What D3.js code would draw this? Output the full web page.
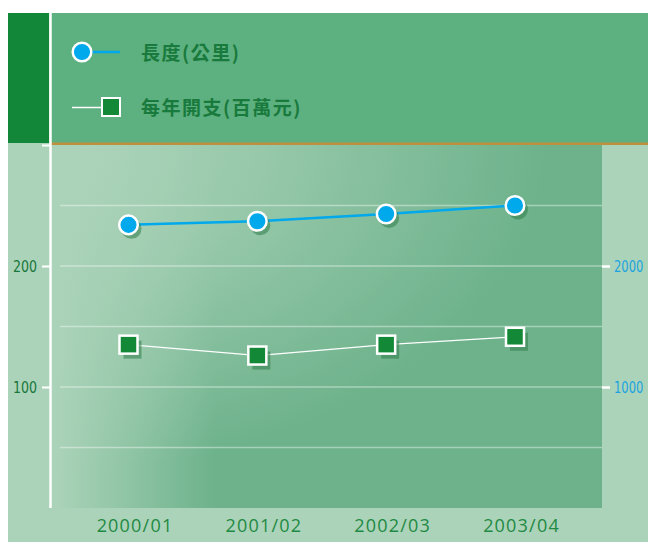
<!DOCTYPE html>
<html>
<head>
<meta charset="utf-8">
<script src="https://cdn.jsdelivr.net/npm/d3@7"></script>
<style>
  body { margin: 0; background: #fff; }
  svg { display: block; }
</style>
</head>
<body>
<svg width="648" height="542"></svg>
<script>
// chart data
const years = ["2000/01", "2001/02", "2002/03", "2003/04"];
const lengthKm = [234, 237, 243, 250];
const spending = [1350, 1260, 1350, 1415];
const leftTicks = [100, 200, 300];
const rightTicks = [1000, 2000];
const seriesNames = ["長度(公里)", "每年開支(百萬元)"];

const svg = d3.select("svg");

// background pieces
svg.append("rect").attr("x", 8).attr("y", 13).attr("width", 640).attr("height", 529).attr("fill", "#abd3b9");
svg.append("rect").attr("x", 8).attr("y", 13).attr("width", 41).attr("height", 130).attr("fill", "#12873a");
svg.append("rect").attr("x", 51).attr("y", 13).attr("width", 597).attr("height", 130).attr("fill", "#5db07f");
svg.append("rect").attr("x", 51).attr("y", 142.5).attr("width", 597).attr("height", 2.5).attr("fill", "#be8f3e");

// plot gradients: horizontal base + light glow from the top-left corner
const defs = svg.append("defs");
const base = defs.append("linearGradient").attr("id", "baseGrad")
    .attr("gradientUnits", "userSpaceOnUse")
    .attr("x1", 55).attr("y1", 0).attr("x2", 215).attr("y2", 0);
base.append("stop").attr("offset", 0).attr("stop-color", "#abd3b9");
base.append("stop").attr("offset", 1).attr("stop-color", "#6db28b");

const glow = defs.append("radialGradient").attr("id", "glowGrad")
    .attr("cx", 0).attr("cy", 0).attr("r", 0.9);
glow.append("stop").attr("offset", 0).attr("stop-color", "#abd3b9").attr("stop-opacity", 1);
glow.append("stop").attr("offset", 0.4).attr("stop-color", "#abd3b9").attr("stop-opacity", 0.7);
glow.append("stop").attr("offset", 1).attr("stop-color", "#abd3b9").attr("stop-opacity", 0);

const plot = { left: 51, right: 602, top: 145, bottom: 508 };
svg.append("rect").attr("x", plot.left).attr("y", plot.top)
    .attr("width", plot.right - plot.left).attr("height", plot.bottom - plot.top)
    .attr("fill", "url(#baseGrad)");
svg.append("rect").attr("x", plot.left).attr("y", plot.top)
    .attr("width", plot.right - plot.left).attr("height", plot.bottom - plot.top)
    .attr("fill", "url(#glowGrad)");

// scales
const xScale = d3.scalePoint().domain(years).range([128.5, 515]);
const yLeft = d3.scaleLinear().domain([0, 300]).range([plot.bottom, plot.top]);
const yRight = d3.scaleLinear().domain([0, 3000]).range([plot.bottom, plot.top]);

// grid lines every 50
svg.append("g").selectAll("line")
    .data([50, 100, 150, 200, 250])
    .enter().append("line")
    .attr("x1", 60).attr("x2", plot.right)
    .attr("y1", d => yLeft(d)).attr("y2", d => yLeft(d))
    .attr("stroke", "#ffffff").attr("stroke-opacity", 0.4).attr("stroke-width", 1.5);

const narrow = "16px 'DejaVu Sans', sans-serif";

// left axis
const leftAxis = svg.append("g")
    .attr("transform", "translate(50,0)")
    .call(d3.axisLeft(yLeft).tickValues(leftTicks).tickSize(8).tickPadding(5)
        .tickFormat(d => d === 300 ? "" : d));
leftAxis.select(".domain").remove();
leftAxis.selectAll(".tick line").attr("stroke", "#fff").attr("stroke-width", 2);
leftAxis.selectAll(".tick text")
    .attr("fill", "#17763a")
    .attr("textLength", 24).attr("lengthAdjust", "spacingAndGlyphs")
    .style("font", narrow);
svg.append("line").attr("x1", 50.5).attr("x2", 50.5).attr("y1", 13).attr("y2", plot.bottom)
    .attr("stroke", "#fff").attr("stroke-width", 2.5);

// right axis (labels squeezed horizontally to look condensed)
const rightAxis = svg.append("g")
    .attr("transform", `translate(${plot.right},0)`)
    .call(d3.axisRight(yRight).tickValues(rightTicks).tickSize(8).tickPadding(4)
        .tickFormat(d3.format("d")));
rightAxis.select(".domain").remove();
rightAxis.selectAll(".tick line").attr("stroke", "#fff").attr("stroke-width", 2.5);
rightAxis.selectAll(".tick text")
    .attr("fill", "#1aa3e0")
    .attr("x", 0)
    .attr("transform", "translate(12,0) scale(0.72,1)")
    .style("font", narrow);

// x axis labels
const xAxis = svg.append("g")
    .attr("transform", `translate(6,${plot.bottom})`)
    .call(d3.axisBottom(xScale).tickSize(0).tickPadding(11));
xAxis.select(".domain").remove();
xAxis.selectAll(".tick text")
    .attr("fill", "#1e8a43")
    .style("font", "18px 'Open Sans', sans-serif")
    .style("letter-spacing", "1.2px");

// lines
const lenData = years.map((y, i) => ({ x: y, v: lengthKm[i] }));
const spendData = years.map((y, i) => ({ x: y, v: spending[i] }));

svg.append("path").datum(spendData)
    .attr("fill", "none").attr("stroke", "#fff").attr("stroke-width", 1.3)
    .attr("d", d3.line().x(d => xScale(d.x)).y(d => yRight(d.v)));
svg.append("path").datum(lenData)
    .attr("fill", "none").attr("stroke", "#00a8ec").attr("stroke-width", 2.5)
    .attr("d", d3.line().x(d => xScale(d.x)).y(d => yLeft(d.v)));

// square markers with shadow
const sq = 18;
svg.selectAll(".sq-shadow").data(spendData).enter().append("rect")
    .attr("class", "sq-shadow")
    .attr("x", d => xScale(d.x) - sq / 2 + 4).attr("y", d => yRight(d.v) - sq / 2 + 5)
    .attr("width", sq).attr("height", sq)
    .attr("fill", "#2f7d4a").attr("fill-opacity", 0.55);
svg.selectAll(".sq").data(spendData).enter().append("rect")
    .attr("class", "sq")
    .attr("x", d => xScale(d.x) - sq / 2).attr("y", d => yRight(d.v) - sq / 2)
    .attr("width", sq).attr("height", sq)
    .attr("fill", "#138937").attr("stroke", "#fff").attr("stroke-width", 2.5);

// circle markers with shadow
svg.selectAll(".c-shadow").data(lenData).enter().append("circle")
    .attr("class", "c-shadow")
    .attr("cx", d => xScale(d.x) + 3).attr("cy", d => yLeft(d.v) + 4)
    .attr("r", 10)
    .attr("fill", "#2f7d4a").attr("fill-opacity", 0.55);
svg.selectAll(".c").data(lenData).enter().append("circle")
    .attr("class", "c")
    .attr("cx", d => xScale(d.x)).attr("cy", d => yLeft(d.v))
    .attr("r", 9.3)
    .attr("fill", "#00a8ec").attr("stroke", "#fff").attr("stroke-width", 2.5);

// legend
const legend = svg.append("g");
legend.append("line").attr("x1", 82).attr("x2", 120).attr("y1", 52).attr("y2", 52)
    .attr("stroke", "#00a8ec").attr("stroke-width", 2.5);
legend.append("circle").attr("cx", 82).attr("cy", 52).attr("r", 9.3)
    .attr("fill", "#00a8ec").attr("stroke", "#fff").attr("stroke-width", 2.5);
legend.append("line").attr("x1", 72).attr("x2", 110).attr("y1", 107.5).attr("y2", 107.5)
    .attr("stroke", "#fff").attr("stroke-width", 1.3);
legend.append("rect").attr("x", 102).attr("y", 98).attr("width", 18).attr("height", 18)
    .attr("fill", "#138937").attr("stroke", "#fff").attr("stroke-width", 2);
legend.selectAll("text").data(seriesNames).enter().append("text")
    .attr("x", 141).attr("y", (d, i) => [53, 108][i])
    .attr("dy", "0.36em")
    .attr("fill", "#187a3c")
    .style("font", "bold 19px 'Noto Sans CJK TC', 'Noto Sans', sans-serif")
    .style("letter-spacing", "1.5px")
    .text(d => d);
</script>
</body>
</html>
